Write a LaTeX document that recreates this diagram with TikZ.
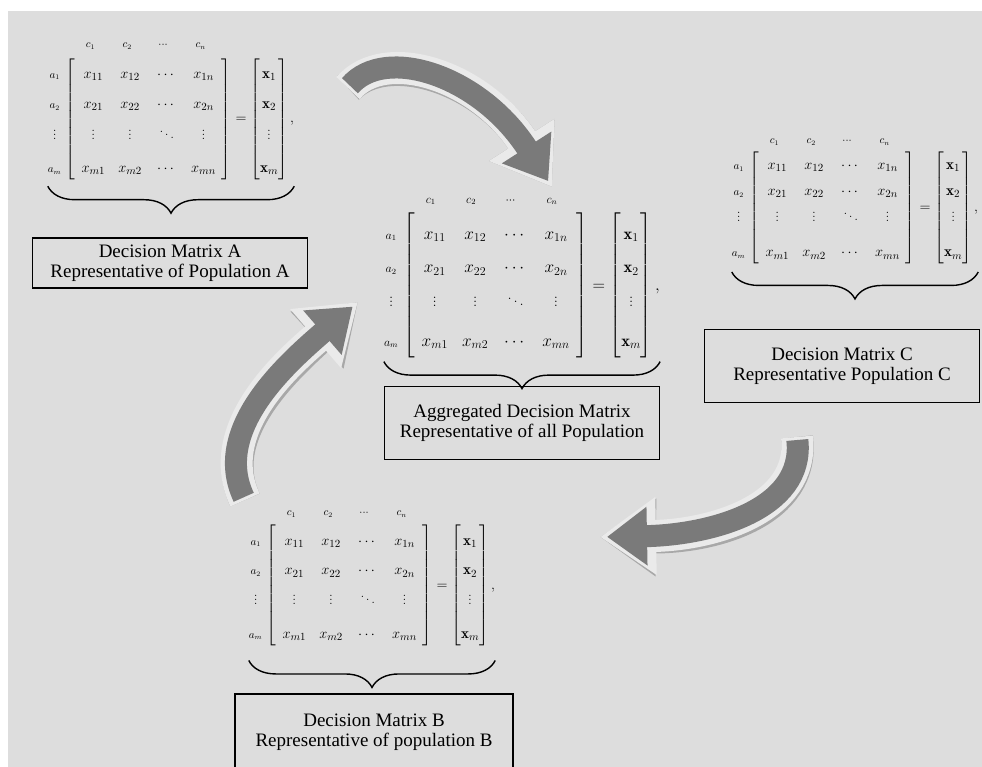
\documentclass[tikz,border=0pt]{standalone}
\usepackage{amsmath}
\usepackage{fontspec}
\newfontfamily\timesfont{Liberation Serif}
\usetikzlibrary{decorations.pathreplacing,arrows.meta}
\definecolor{sfondo}{RGB}{221,221,221}
\definecolor{scuro}{RGB}{122,122,122}
\definecolor{chiaro}{RGB}{234,234,234}
\definecolor{ombra}{RGB}{168,168,168}
% cella di larghezza fissa
\newcommand{\cella}[1]{\makebox[2.45em]{$#1$}}
% matrice decisionale con etichette (#1 = arraystretch, #2 = spazio prima dell'ultima riga)
\newcommand{\matdec}[2]{%
  \renewcommand{\arraystretch}{#1}%
  $\begin{array}{@{}r@{\;}l@{}}
   & \hspace{0.45em}\cella{\scriptstyle c_1}\cella{\scriptstyle c_2}\cella{\scriptstyle\cdots}\cella{\scriptstyle c_n}\\
   \begin{array}{@{}c@{}}\scriptstyle a_1\\ \scriptstyle a_2\\ \vdots\\[#2] \scriptstyle a_m\end{array}
   & \left[\begin{array}{@{}c@{}c@{}c@{}c@{}}
     \cella{x_{11}}&\cella{x_{12}}&\cella{\cdots}&\cella{x_{1n}}\\
     \cella{x_{21}}&\cella{x_{22}}&\cella{\cdots}&\cella{x_{2n}}\\
     \cella{\vdots}&\cella{\vdots}&\cella{\ddots}&\cella{\vdots}\\[#2]
     \cella{x_{m1}}&\cella{x_{m2}}&\cella{\cdots}&\cella{x_{mn}}
   \end{array}\right]
   =\left[\begin{array}{@{}c@{}}\mathbf{x}_1\\ \mathbf{x}_2\\ \vdots\\[#2] \mathbf{x}_m\end{array}\right],
  \end{array}$}
% freccia curva a tre strati
\newcommand{\frecciacurva}[4]{%
  \draw[freccia ombra] #1 .. controls #2 and #3 .. #4;
  \draw[freccia bordo] #1 .. controls #2 and #3 .. #4;
  \draw[freccia corpo] #1 .. controls #2 and #3 .. #4;}
\begin{document}
\begin{tikzpicture}
        [x=1pt,y=-1pt,
         cornice/.style={draw, line width=1.4pt, align=center, minimum width=275pt, minimum height=73pt, inner sep=2pt, font=\timesfont\fontsize{19}{20}\selectfont},
         matrice/.style={inner sep=0pt, font=\fontsize{15}{18}\selectfont},
         graffa/.style={decorate, decoration={brace,mirror,amplitude=27pt}, line width=1.4pt},
         freccia ombra/.style={ombra, line width=32pt, shift={(2,3)}, -{Triangle[length=56pt,width=74pt]}},
         freccia bordo/.style={chiaro, line width=32pt, -{Triangle[length=56pt,width=74pt]}},
         freccia corpo/.style={scuro, line width=22pt, shorten <=3pt, shorten >=7pt, -{Triangle[length=40pt,width=56pt]}}]
            \useasboundingbox (0,0) rectangle (982,767);
            %sfondo
            \fill[white] (0,0) rectangle (982,767);
            \fill[sfondo] (8,11) rectangle (982,767);
            %matrici
            \node[matrice] (matA) at (171,104) {\matdec{1.7}{3pt}};
            \node[matrice, font=\fontsize{16.5}{19.8}\selectfont] (matAgg) at (522,269) {\matdec{1.7}{6pt}};
            \node[matrice] (matC) at (855,195) {\matdec{1.45}{9pt}};
            \node[matrice] (matB) at (372,571) {\matdec{1.65}{4pt}};
            %graffe sotto le matrici
            \draw[graffa] ([yshift=-4pt]matA.south west) -- ([yshift=-4pt]matA.south east);
            \draw[graffa] ([yshift=-3pt]matAgg.south west) -- ([yshift=-3pt]matAgg.south east);
            \draw[graffa] ([yshift=-7pt]matC.south west) -- ([yshift=-7pt]matC.south east);
            \draw[graffa] ([yshift=-13pt]matB.south west) -- ([yshift=-13pt]matB.south east);
            %riquadri
            \node[cornice, minimum height=50pt] (boxA) at (170,263) {Decision Matrix A\\Representative of Population A};
            \node[cornice] (boxAgg) at (522,423) {Aggregated Decision Matrix\\Representative of all Population};
            \node[cornice] (boxC) at (842,366) {Decision Matrix C\\Representative Population C};
            \node[cornice, minimum width=278pt, minimum height=76pt] (boxB) at (374,732) {Decision Matrix B\\Representative of population B};
            %estremi delle frecce
            \coordinate (codaA) at (348,88);
            \coordinate (puntaA) at (552,187);
            \coordinate (codaB) at (245,500);
            \coordinate (puntaB) at (358,302);
            \coordinate (codaC) at (797,437);
            \coordinate (puntaC) at (600,537);
            %frecce
            \frecciacurva{(codaA)}{(385,45)}{(480,75)}{(puntaA)}
            \frecciacurva{(codaB)}{(212,430)}{(285,365)}{(puntaB)}
            \frecciacurva{(codaC)}{(805,510)}{(710,535)}{(puntaC)}
\end{tikzpicture}
\end{document}
